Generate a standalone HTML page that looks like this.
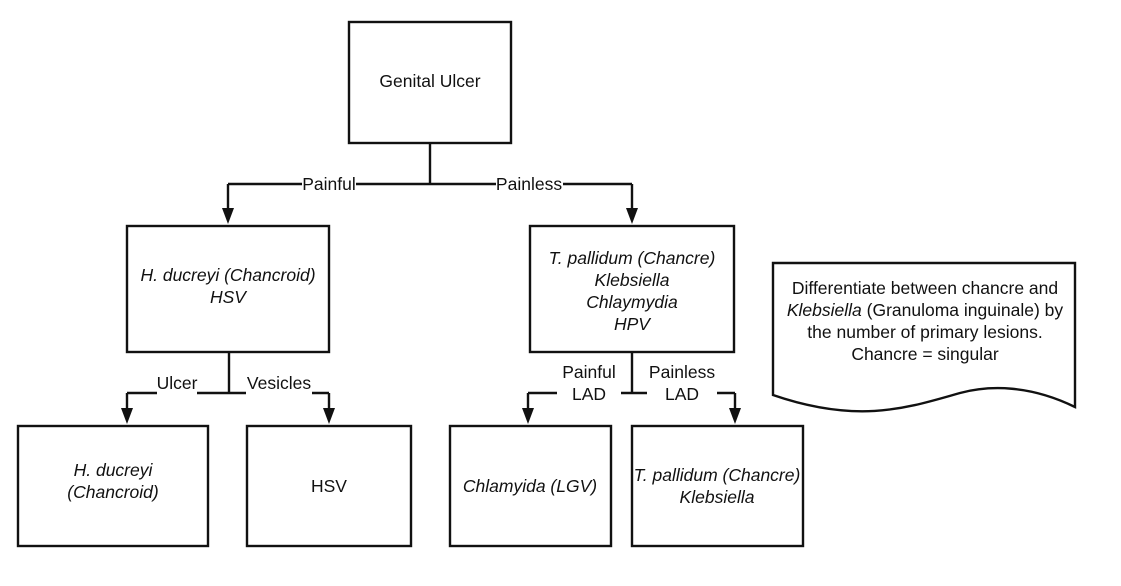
<!DOCTYPE html>
<html><head><style>
html,body{margin:0;padding:0;background:#fff;}
svg{display:block;}
text{font-family:"Liberation Sans",Arial,sans-serif;font-size:17.5px;fill:#111;}
.i{font-style:italic;}
</style></head><body>
<svg width="1121" height="586" viewBox="0 0 1121 586" xmlns="http://www.w3.org/2000/svg">
<g fill="none" stroke="#111" stroke-width="2.4">
<rect x="349" y="22" width="162" height="121"/>
<rect x="127" y="226" width="202" height="126"/>
<rect x="530" y="226" width="204" height="126"/>
<rect x="18" y="426" width="190" height="120"/>
<rect x="247" y="426" width="164" height="120"/>
<rect x="450" y="426" width="161" height="120"/>
<rect x="632" y="426" width="171" height="120"/>
<path d="M773,263 L1075,263 L1075,407 C1030,385 990,385 960,393 C910,407 860,425 773,395 Z"/>
<path d="M430,143 V184"/>
<path d="M228,184 H302 M356,184 H496 M563,184 H632"/>
<path d="M228,184 V212 M632,184 V212"/>
<path d="M229,352 V393 M127,393 H157 M197,393 H246 M312,393 H329"/>
<path d="M127,393 V412 M329,393 V412"/>
<path d="M632,352 V393 M621,393 H647"/>
<path d="M528,393 H557 M528,393 V412 M735,393 V412 M717,393 H735"/>
</g>
<g fill="#111">
<path d="M222,208 L234,208 L228,224 Z"/>
<path d="M626,208 L638,208 L632,224 Z"/>
<path d="M121,408 L133,408 L127,424 Z"/>
<path d="M323,408 L335,408 L329,424 Z"/>
<path d="M522,408 L534,408 L528,424 Z"/>
<path d="M729,408 L741,408 L735,424 Z"/>
</g>
<g text-anchor="middle">
<text x="430" y="87">Genital Ulcer</text>
<text x="329" y="190">Painful</text>
<text x="529" y="190">Painless</text>
<text class="i" x="228" y="281">H. ducreyi (Chancroid)</text>
<text class="i" x="228" y="303">HSV</text>
<text class="i" x="632" y="264">T. pallidum (Chancre)</text>
<text class="i" x="632" y="286">Klebsiella</text>
<text class="i" x="632" y="308">Chlaymydia</text>
<text class="i" x="632" y="330">HPV</text>
<text x="177" y="389">Ulcer</text>
<text x="279" y="389">Vesicles</text>
<text x="589" y="378">Painful</text>
<text x="589" y="400">LAD</text>
<text x="682" y="378">Painless</text>
<text x="682" y="400">LAD</text>
<text class="i" x="113" y="476">H. ducreyi</text>
<text class="i" x="113" y="498">(Chancroid)</text>
<text x="329" y="492">HSV</text>
<text class="i" x="530" y="492">Chlamyida (LGV)</text>
<text class="i" x="717" y="481">T. pallidum (Chancre)</text>
<text class="i" x="717" y="503">Klebsiella</text>
<text x="925" y="294">Differentiate between chancre and</text>
<text x="925" y="316"><tspan class="i">Klebsiella</tspan> (Granuloma inguinale) by</text>
<text x="925" y="338">the number of primary lesions.</text>
<text x="925" y="360">Chancre = singular</text>
</g>
</svg>
</body></html>
